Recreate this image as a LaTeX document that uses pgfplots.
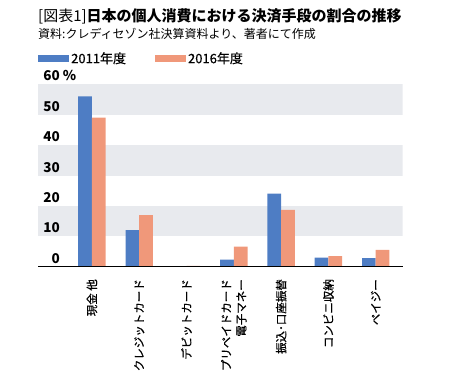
\documentclass[border=0pt]{standalone}
\usepackage{fontspec}
\setmainfont{Noto Sans CJK JP}
\usepackage{pgfplots}
\pgfplotsset{compat=1.18}
\definecolor{cblue}{HTML}{4E7DC4}
\definecolor{corange}{HTML}{F0987A}
\definecolor{band}{HTML}{E8EAEE}
\begin{document}
\begin{tikzpicture}
\useasboundingbox (0pt,0pt) rectangle (460pt,-377pt);
\node[anchor=west,inner sep=0pt] at (38pt,-16.7pt) {\fontsize{15}{16}\selectfont [図表1]\textbf{日本の個人消費における決済手段の割合の推移}};
\node[anchor=west,inner sep=0pt] at (38pt,-34pt) {\fontsize{12}{13}\selectfont 資料:クレディセゾン社決算資料より、著者にて作成};
\begin{axis}[
  at={(38pt,-266.7pt)}, anchor=south west,
  scale only axis, width=364.7pt, height=182.4pt,
  xmin=-1.14, xmax=6.57, ymin=0, ymax=60,
  ybar=0pt, bar width=13.7pt,
  axis on top,
  axis x line*=bottom,
  axis y line*=left,
  y axis line style={draw=none},
  x axis line style={black, line width=0.8pt, -},
  xtick=data,
  xticklabels={現金 他, クレジットカード, デビットカード, {プリペイドカード\\電子マネー}, 振込･口座振替, コンビニ収納, ペイジー},
  xtick style={draw=none},
  xticklabel style={rotate=90, anchor=east, inner sep=0pt, align=right, font=\fontsize{11.5}{15}\selectfont\addfontfeature{FakeBold=0.6}},
  xticklabel shift=8pt,
  ytick={0,10,20,30,40,50,60},
  yticklabels={0,10,20,30,40,50,{60\rlap{ \%}}},
  ytick style={draw=none},
  yticklabel style={anchor=base east, inner sep=0pt, xshift=22pt, yshift=3.5pt, font=\bfseries\fontsize{13.5}{14}\selectfont},
  /pgf/number format/assume math mode=true,
  legend columns=2,
  legend style={at={(0,1.188)}, anchor=north west, draw=none, fill=none, inner sep=0pt,
    font=\fontsize{13}{14}\selectfont\addfontfeature{FakeBold=0.6},
    /tikz/every even column/.append style={column sep=27pt}},
  legend image code/.code={\fill[#1] (0pt,-3.3pt) rectangle (31pt,3.3pt);},
]
\fill[band] (axis cs:-1.14,50) rectangle (axis cs:6.57,60);
\fill[band] (axis cs:-1.14,30) rectangle (axis cs:6.57,40);
\fill[band] (axis cs:-1.14,10) rectangle (axis cs:6.57,20);
\addplot[fill=cblue, draw=none] coordinates {(0,56) (1,12) (2,0) (3,2.3) (4,24) (5,3) (6,2.8)};
\addplot[fill=corange, draw=none] coordinates {(0,49) (1,17) (2,0.3) (3,6.6) (4,18.7) (5,3.5) (6,5.5)};
\legend{2011年度, 2016年度}
\end{axis}
\end{tikzpicture}
\end{document}
